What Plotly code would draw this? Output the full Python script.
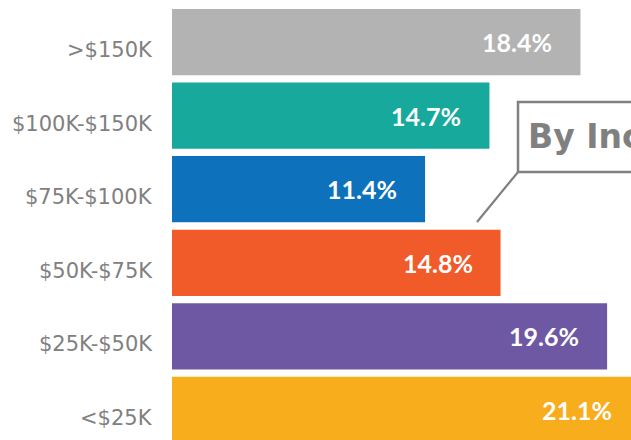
import plotly.graph_objects as go

categories = ["<$25K", "$25K-$50K", "$50K-$75K", "$75K-$100K", "$100K-$150K", ">$150K"]
values = [21.1, 19.6, 14.8, 11.4, 14.3, 18.4]
labels = ["21.1%", "19.6%", "14.8%", "11.4%", "14.7%", "18.4%"]
colors = ["#f8ad1d", "#6e58a3", "#f15a29", "#0d71bb", "#16a99c", "#b3b3b3"]
title_text = "By Income"

W, H = 700, 440          # figure is wider than the 631px window; the right part is cropped
L = 172
PX_PER_UNIT = 22.2

fig = go.Figure(go.Bar(
    x=values, y=categories, orientation="h",
    marker=dict(color=colors, line=dict(width=0)),
    hoverinfo="skip",
))

annotations = []
for c, v, t in zip(categories, values, labels):
    annotations.append(dict(
        x=v, y=c, xref="x", yref="y", text=t, showarrow=False,
        xanchor="right", yanchor="middle", xshift=-26,
        font=dict(family="Lato", size=25, color="white", weight="bold"),
    ))
    annotations.append(dict(
        x=0, y=c, xref="paper", yref="y", text=c, showarrow=False,
        xanchor="right", yanchor="middle", xshift=-17, yshift=-8,
        font=dict(family="DejaVu Sans", size=21, color="#808080"),
    ))

def px(xp):
    return (xp - L) / (W - L)

def py(yp):
    return 1 - yp / H

annotations.append(dict(
    x=px(526), y=py(137), xref="paper", yref="paper", text=title_text,
    showarrow=False, xanchor="left", yanchor="middle",
    font=dict(family="DejaVu Sans", size=33, color="#808080", weight="bold"),
))

shapes = [
    dict(type="rect", xref="paper", yref="paper",
         x0=px(518), x1=px(900), y0=py(172), y1=py(102),
         line=dict(color="#808080", width=2.5), fillcolor="white", layer="above"),
    dict(type="line", xref="paper", yref="paper",
         x0=px(518), y0=py(172), x1=px(477), y1=py(222),
         line=dict(color="#808080", width=2.2), layer="above"),
]

fig.update_layout(
    width=W, height=H,
    margin=dict(l=L, r=0, t=0, b=0),
    paper_bgcolor="white", plot_bgcolor="white",
    bargap=0.1,
    showlegend=False,
    xaxis=dict(range=[0, (W - L) / PX_PER_UNIT], visible=False, fixedrange=True),
    yaxis=dict(categoryorder="array", categoryarray=categories,
               range=[-0.408, 5.571], showticklabels=False, showgrid=False,
               zeroline=False, showline=False, ticks="", fixedrange=True),
    annotations=annotations,
    shapes=shapes,
)

fig.write_html(
    "out.html",
    config={"displayModeBar": False},
    post_script="document.body.style.margin='0';document.body.style.overflow='hidden';",
)
